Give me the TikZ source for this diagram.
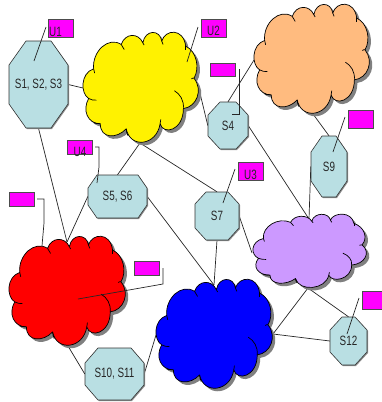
\documentclass[tikz,border=0pt]{standalone}
\usepackage{fontspec}
\setmainfont[FakeStretch=0.73]{Liberation Sans}
\definecolor{octfill}{HTML}{B9DFE3}
\definecolor{tagfill}{HTML}{FF00FF}
\definecolor{orangecloud}{HTML}{FFBB7F}
\definecolor{purplecloud}{HTML}{CC99FF}
\definecolor{inkgray}{HTML}{262626}
\pgfdeclarelayer{back}
\pgfsetlayers{back,main}
\newcommand{\cloudoutline}{(220,122)
 .. controls (215,70) and (265,25) .. (303,50)
 .. controls (315,15) and (355,15) .. (368,45)
 .. controls (375,5) and (420,5) .. (425,40)
 .. controls (435,5) and (490,0) .. (497,55)
 .. controls (530,70) and (540,120) .. (522,150)
 .. controls (550,185) and (530,235) .. (490,240)
 .. controls (490,305) and (430,320) .. (420,285)
 .. controls (410,350) and (330,360) .. (318,300)
 .. controls (290,330) and (240,330) .. (240,285)
 .. controls (202,285) and (185,245) .. (205,210)
 .. controls (180,195) and (180,135) .. (220,122) -- cycle}
\newcommand{\mycloud}[5]{%
 \begin{scope}[shift={(#1,#2)}]
 \begin{scope}[x=#3pt/349,y=-#4pt/329,shift={(-188,-13)}]
  \fill[cloudshadow,xshift=3pt,yshift=-3pt] \cloudoutline;
  \draw[cloudedge,fill=#5] \cloudoutline;
  \draw[cloudedge] (205,210) .. controls (212,214) and (220,216) .. (228,215);
  \draw[cloudedge] (240,285) .. controls (232,285) and (226,284) .. (220,282);
  \draw[cloudedge] (318,300) .. controls (318,306) and (320,314) .. (323,320);
  \draw[cloudedge] (420,285) .. controls (421,280) and (422,277) .. (422,272);
  \draw[cloudedge] (490,240) .. controls (492,215) and (480,197) .. (463,187);
  \draw[cloudedge] (522,150) .. controls (520,148) and (518,150) .. (514,152);
  \draw[cloudedge] (497,55) .. controls (498,59) and (498,62) .. (497,66);
  \draw[cloudedge] (303,50) .. controls (306,55) and (309,60) .. (312,65);
  \draw[cloudedge] (368,45) .. controls (369,48) and (370,50) .. (372,52);
  \draw[cloudedge] (425,40) .. controls (426,44) and (427,47) .. (429,50);
  \draw[cloudedge] (220,122) .. controls (220,127) and (221,131) .. (223,135);
 \end{scope}
 \end{scope}}
% name, cx, cy, half width, half height, chamfer x, chamfer y, text
\newcommand{\myocta}[8]{%
 \begin{scope}[shift={(#2,#3)}]
  \path[fill=black!45,xshift=1pt,yshift=-1pt]
   (-#4+#6,-#5) -- (#4-#6,-#5) -- (#4,-#5+#7) -- (#4,#5-#7) -- (#4-#6,#5) -- (-#4+#6,#5) -- (-#4,#5-#7) -- (-#4,-#5+#7) -- cycle;
  \draw[octedge]
   (-#4+#6,-#5) -- (#4-#6,-#5) -- (#4,-#5+#7) -- (#4,#5-#7) -- (#4-#6,#5) -- (-#4+#6,#5) -- (-#4,#5-#7) -- (-#4,-#5+#7) -- cycle;
 \end{scope}
 \node[octatext,minimum width=2*#4 pt,minimum height=2*#5 pt] (#1) at (#2,#3) {#8};}
\tikzset{
 cloudedge/.style={draw=black,line width=0.7pt,line join=round},
 cloudshadow/.style={fill=black!50},
 link/.style={draw=black!85,line width=0.7pt},
 octedge/.style={draw=black!80,line width=0.6pt,fill=octfill,line join=round},
 octatext/.style={inner sep=0pt,text=inkgray,font=\fontsize{13.5}{15}\selectfont},
 tagbox/.style={draw=black!70,line width=0.7pt,fill=tagfill,inner sep=0pt,minimum width=25pt},
 taglabel/.style={inner sep=0pt,text=inkgray,font=\fontsize{13.5}{15}\selectfont}
}
\begin{document}
\begin{tikzpicture}[x=1pt,y=-1pt]
\useasboundingbox (0,0) rectangle (382,402);
% attachment points on the clouds
\coordinate (yL) at (83,88);
\coordinate (yB) at (140,143);
\coordinate (yR) at (198,85);
\coordinate (oL) at (254,60);
\coordinate (oB) at (313,114);
\coordinate (rT) at (67,242);
\coordinate (rB) at (68,346);
\coordinate (bT) at (214,285);
\coordinate (bL) at (156,335);
\coordinate (bR) at (273,334);
\coordinate (pT) at (309,219);
\coordinate (pL) at (252,253);
\coordinate (pB) at (308,288);
% clouds
\mycloud{83}{32}{116}{111}{yellow}
\mycloud{254}{4}{116}{110}{orangecloud}
\mycloud{9}{236}{117}{110}{red}
\mycloud{156}{279}{117}{110}{blue}
\mycloud{253}{214}{114}{74}{purplecloud}
% octagons
\myocta{s1}{38.5}{84.5}{29.5}{43.5}{17}{24}{S1, S2, S3}
\myocta{s5}{117.5}{196.5}{29.5}{21.5}{9}{13}{S5, S6}
\myocta{s4}{228}{125.5}{20}{23.5}{12}{13}{S4}
\myocta{s9}{329}{166.5}{18}{30.5}{11}{16}{S9}
\myocta{s7}{217}{216}{22}{24}{11}{12}{S7}
\myocta{s10}{114.5}{374}{29.5}{26}{13}{15}{S10, S11}
\myocta{s12}{348.5}{341}{18.5}{24}{12}{13}{S12}
% connectors
\begin{pgfonlayer}{back}
\draw[link] (s1.east) -- (yL);
\draw[link] (s1.south) -- (rT);
\draw[link] (yB) -- (s5.north);
\draw[link] (yB) -- (s7.north);
\draw[link] (yR) -- (s4.west);
\draw[link] (s4.north) -- (oL);
\draw[link] (s4.east) -- (pT);
\draw[link] (oB) -- (s9.north);
\draw[link] (s9.west) -- (pT);
\draw[link] (s5.west) -- (rT);
\draw[link] (s5.east) -- (bT);
\draw[link] (s7.south) -- (bT);
\draw[link] (s7.east) -- (pL);
\draw[link] (pB) -- (bR);
\draw[link] (pB) -- (s12.north);
\draw[link] (bR) -- (s12.west);
\draw[link] (rB) -- (s10.west);
\draw[link] (s10.east) -- (bL);
\end{pgfonlayer}
% tags
\node[tagbox,minimum height=18pt] (u1) at (61,28) {};
\node[taglabel] (u1t) at (55.5,32) {U1};
\node[tagbox,minimum height=18pt] (u2) at (213.5,28) {};
\node[taglabel] (u2t) at (213.5,31) {U2};
\node[tagbox,minimum height=13pt] (t4) at (223,69.5) {};
\node[tagbox,minimum height=18pt] (t9) at (360.5,119) {};
\node[tagbox,minimum height=18pt] (u3) at (250.5,171) {};
\node[taglabel] (u3t) at (250.5,175) {U3};
\node[tagbox,minimum height=14pt] (u4) at (80,147) {};
\node[taglabel] (u4t) at (80,152) {U4};
\node[tagbox,minimum height=14pt] (tl) at (21.5,199) {};
\node[tagbox,minimum height=14pt] (tr) at (147,268) {};
\node[tagbox,minimum height=18pt,minimum width=30pt] (t12) at (377,300.5) {};
% callouts
\coordinate (c1a) at (46,27); \coordinate (c1b) at (34,61);
\coordinate (c2a) at (198,27); \coordinate (c2b) at (187,62);
\coordinate (c3a) at (235,169); \coordinate (c3b) at (223,203);
\coordinate (c4a) at (95,147); \coordinate (c4b) at (99,147); \coordinate (c4c) at (99,167); \coordinate (c4d) at (97,183);
\coordinate (c5a) at (239,69); \coordinate (c5b) at (239,114); \coordinate (c5c) at (232,114);
\coordinate (c6a) at (345,117); \coordinate (c6b) at (333,152);
\coordinate (c7a) at (37,199); \coordinate (c7b) at (44,199); \coordinate (c7c) at (44,223); \coordinate (c7d) at (42,246);
\coordinate (c8a) at (163,268); \coordinate (c8b) at (163,284); \coordinate (c8c) at (78,299);
\coordinate (c9a) at (359,298); \coordinate (c9b) at (347,334);
\draw[link] (c1a) -- (c1b);
\draw[link] (c2a) -- (c2b);
\draw[link] (c3a) -- (c3b);
\draw[link] (c4a) -- (c4b) -- (c4c) -- (c4d);
\draw[link] (c5a) -- (c5b) -- (c5c);
\draw[link] (c6a) -- (c6b);
\draw[link] (c7a) -- (c7b) -- (c7c) -- (c7d);
\draw[link] (c8a) -- (c8b) -- (c8c);
\draw[link] (c9a) -- (c9b);
\end{tikzpicture}
\end{document}
